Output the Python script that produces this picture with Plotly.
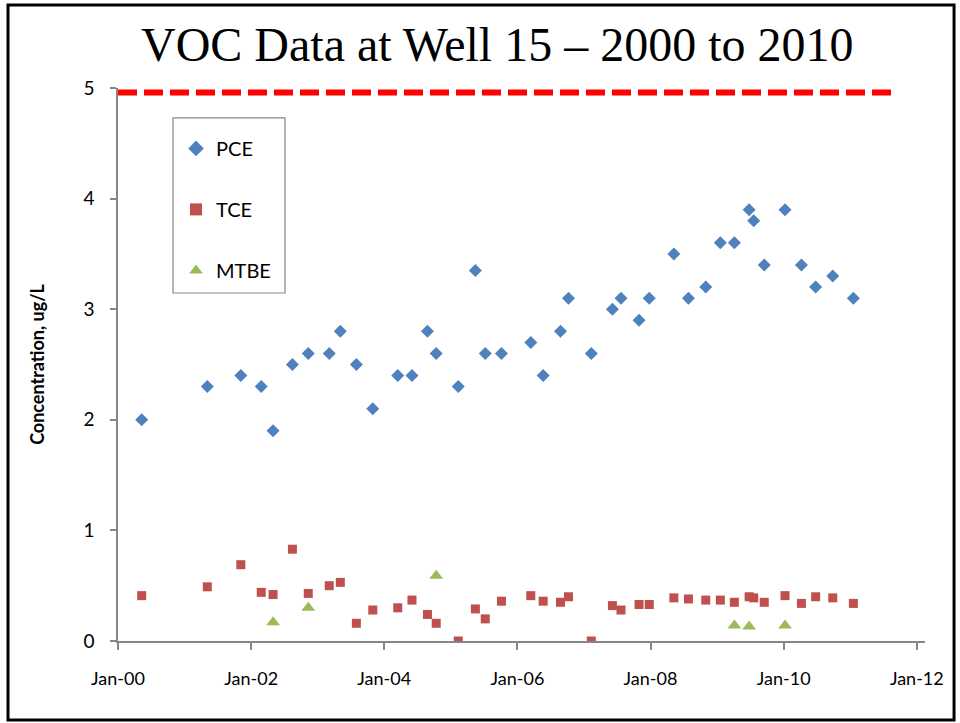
import plotly.graph_objects as go

# ---- data ----
sample_dates = [
    "2000-05-10", "2001-05-05", "2001-11-05", "2002-02-25", "2002-05-01",
    "2002-08-15", "2002-11-10", "2003-03-05", "2003-05-05", "2003-08-01",
    "2003-10-30", "2004-03-15", "2004-06-01", "2004-08-25", "2004-10-12",
    "2005-02-10", "2005-05-15", "2005-07-08", "2005-10-05", "2006-03-15",
    "2006-05-22", "2006-08-25", "2006-10-08", "2007-02-10", "2007-06-06",
    "2007-07-23", "2007-10-30", "2007-12-25", "2008-05-08", "2008-07-27",
    "2008-10-30", "2009-01-18", "2009-04-05", "2009-06-25", "2009-07-20",
    "2009-09-16", "2010-01-08", "2010-04-08", "2010-06-25", "2010-09-27",
    "2011-01-18",
]
pce = [2.0, 2.3, 2.4, 2.3, 1.9, 2.5, 2.6, 2.6, 2.8, 2.5,
       2.1, 2.4, 2.4, 2.8, 2.6, 2.3, 3.35, 2.6, 2.6, 2.7,
       2.4, 2.8, 3.1, 2.6, 3.0, 3.1, 2.9, 3.1, 3.5, 3.1,
       3.2, 3.6, 3.6, 3.9, 3.8, 3.4, 3.9, 3.4, 3.2, 3.3,
       3.1]
tce = [0.41, 0.49, 0.69, 0.44, 0.42, 0.83, 0.43, 0.50, 0.53, 0.16,
       0.28, 0.30, 0.37, 0.24, 0.16, 0.0, 0.29, 0.20, 0.36, 0.41,
       0.36, 0.35, 0.40, 0.0, 0.32, 0.28, 0.33, 0.33, 0.39, 0.38,
       0.37, 0.37, 0.35, 0.40, 0.39, 0.35, 0.41, 0.34, 0.40, 0.39,
       0.34]
mtbe_dates = ["2002-05-01", "2002-11-10", "2004-10-12", "2009-04-05", "2009-06-25", "2010-01-08"]
mtbe = [0.17, 0.30, 0.59, 0.14, 0.13, 0.14]

limit_dates = ["2000-01-01", "2011-08-20"]
limit_values = [4.96, 4.96]

x_range = ["2000-01-01", "2012-02-15"]
y_ticks = [0, 1, 2, 3, 4, 5]

title_text = "VOC Data at Well 15 – 2000 to 2010"
y_title = "Concentration, ug/L"

# ---- figure ----
fig = go.Figure()

fig.add_trace(go.Scatter(
    x=limit_dates, y=limit_values, mode="lines", showlegend=False,
    line=dict(color="#FF0000", width=6, dash="19px,7px"), hoverinfo="skip"))

fig.add_trace(go.Scatter(
    x=sample_dates, y=pce, mode="markers", name="PCE", legendgroup="a",
    marker=dict(symbol="diamond", size=10, color="#4F81BD")))
fig.add_trace(go.Scatter(
    x=sample_dates, y=tce, mode="markers", name="TCE", legendgroup="b",
    marker=dict(symbol="square", size=9, color="#C0504D")))
fig.add_trace(go.Scatter(
    x=mtbe_dates, y=mtbe, mode="markers", name="MTBE", legendgroup="c",
    marker=dict(symbol="triangle-up", size=12, color="#9BBB59")))

axis_color = "#868686"
fig.update_layout(
    width=960, height=723,
    paper_bgcolor="white", plot_bgcolor="white",
    margin=dict(l=118, r=35, t=88, b=82),
    title=dict(text=title_text, x=0.518, xanchor="center", y=1 - 44 / 723, yanchor="middle",
               font=dict(family="Liberation Serif", size=48, color="black")),
    font=dict(family="Lato", color="black"),
    xaxis=dict(
        type="date", range=x_range, tickformat="%b-%y", dtick="M24", tick0="2000-01-01",
        showgrid=False, zeroline=False, showline=True, linecolor=axis_color, linewidth=1.5,
        ticks="outside", ticklen=7, tickcolor=axis_color, tickwidth=1.5,
        ticklabelstandoff=14,
        tickfont=dict(family="Lato", size=18, color="black")),
    yaxis=dict(
        range=[0, 5], tickvals=y_ticks, showgrid=False, zeroline=False,
        showline=True, linecolor=axis_color, linewidth=1.5,
        ticks="outside", ticklen=6, tickcolor=axis_color, tickwidth=1.5,
        ticklabelstandoff=12,
        tickfont=dict(family="Lato", size=19, color="black"),
        title=dict(text="<b>" + y_title + "</b>", standoff=34,
                   font=dict(family="Lato", size=18, color="black"))),
    legend=dict(
        x=0.0719, y=0.926, xanchor="left", yanchor="top",
        borderwidth=0, bgcolor="rgba(0,0,0,0)",
        font=dict(family="Lato", size=20, color="black"),
        tracegroupgap=32, itemsizing="constant"),
    shapes=[
        dict(type="rect", xref="paper", yref="paper",
             x0=0.0682, x1=0.2069, y0=0.6293, y1=0.9458,
             line=dict(color=axis_color, width=1.2), fillcolor="rgba(0,0,0,0)"),
        dict(type="rect", xref="paper", yref="paper",
             x0=-0.1363, x1=1.036, y0=-0.1429, y1=1.150,
             line=dict(color="black", width=3), fillcolor="rgba(0,0,0,0)"),
    ],
)

fig.write_html("out.html", config={"displayModeBar": False},
               post_script="document.body.style.margin='0';")
